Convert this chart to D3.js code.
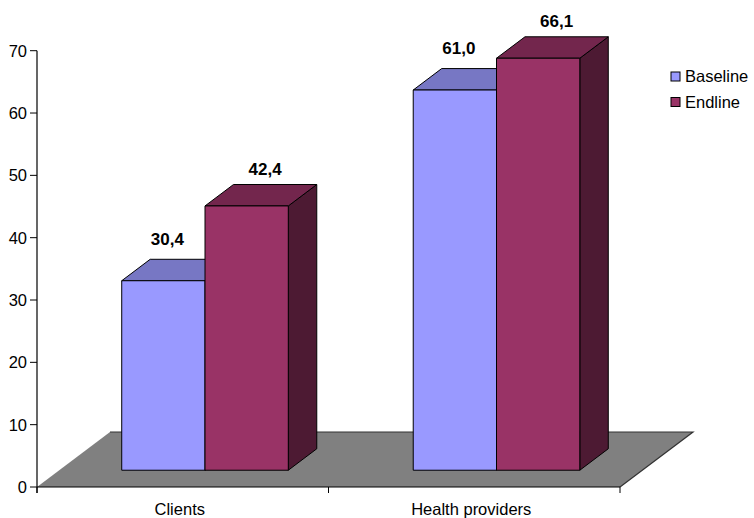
<!DOCTYPE html>
<html>
<head>
<meta charset="utf-8">
<script src="https://cdn.jsdelivr.net/npm/d3@7"></script>
<style>
  html, body { margin: 0; padding: 0; background: #fff; }
  svg { display: block; font-family: Arial, "Liberation Sans", sans-serif; }
</style>
</head>
<body>
<svg id="chart" width="754" height="518"></svg>
<script>
// Chart data
const categories = ["Clients", "Health providers"];
const seriesNames = ["Baseline", "Endline"];
const baselineValues = [30.4, 61.0];
const endlineValues = [42.4, 66.1];
const yTicks = [0, 10, 20, 30, 40, 50, 60, 70];

const seriesValues = [baselineValues, endlineValues];

// Face colours per series: front, top, side
const palette = [
  { front: "#9999FF", top: "#7777C4", side: "#4D4D80" },
  { front: "#993366", top: "#73264D", side: "#4D1A33" }
];

const svg = d3.select("#chart");
const textSize = 16.5;

// Plot frame (front plane)
const x0 = 37, x1 = 620;
const y = d3.scaleLinear().domain([0, 70]).range([487, 50.7]);

// Oblique depth of the floor
const depthX = 73, depthY = -55;
const proj = (px, py, d) => [px + d * depthX, py + d * depthY];

const xCat = d3.scaleBand().domain(categories).range([x0, x1]).paddingInner(0).paddingOuter(0);

// Excel-like gap width of 150%
const barW = xCat.bandwidth() / (seriesNames.length + 1.5);
const xSeries = d3.scaleBand().domain(seriesNames)
  .range([-barW * seriesNames.length / 2, barW * seriesNames.length / 2]);

const barDepth = 0.39;
const dFront = (1 - barDepth) / 2;
const dBack = dFront + barDepth;

const fmt = v => d3.format(".1f")(v).replace(".", ",");

// Floor
const floorPts = [proj(x0, y(0), 0), proj(x1, y(0), 0), proj(x1, y(0), 1), proj(x0, y(0), 1)];
svg.append("polygon")
  .attr("points", floorPts.map(p => p.join(",")).join(" "))
  .attr("fill", "#808080");
// dark back and right edges of the floor
svg.append("polyline")
  .attr("points", [proj(x1, y(0), 0), proj(x1, y(0), 1), proj(x0, y(0), 1)].map(p => p.join(",")).join(" "))
  .attr("fill", "none").attr("stroke", "#333").attr("stroke-width", 1.2);

// Y axis
const axisG = svg.append("g");
axisG.append("line")
  .attr("x1", x0).attr("x2", x0).attr("y1", y(70)).attr("y2", y(0) + 6)
  .attr("stroke", "#000").attr("stroke-width", 1.2);
yTicks.forEach(t => {
  axisG.append("line")
    .attr("x1", x0 - 7).attr("x2", x0).attr("y1", y(t)).attr("y2", y(t))
    .attr("stroke", "#000").attr("stroke-width", 1);
  axisG.append("text")
    .attr("x", x0 - 10).attr("y", y(t)).attr("dy", "0.36em")
    .attr("text-anchor", "end").attr("font-size", textSize).attr("fill", "#000")
    .text(t);
});

// X axis (front edge of the floor)
axisG.append("line")
  .attr("x1", x0).attr("x2", x1).attr("y1", y(0)).attr("y2", y(0))
  .attr("stroke", "#000").attr("stroke-width", 1.2);
[x0, ...categories.map(c => xCat(c) + xCat.bandwidth())].forEach(px => {
  axisG.append("line")
    .attr("x1", px).attr("x2", px).attr("y1", y(0)).attr("y2", y(0) + 6)
    .attr("stroke", "#000").attr("stroke-width", 1);
});
categories.forEach(c => {
  axisG.append("text")
    .attr("x", xCat(c) + xCat.bandwidth() / 2 - 3).attr("y", 515)
    .attr("text-anchor", "middle").attr("font-size", textSize).attr("fill", "#000")
    .text(c);
});

// Bars
const poly = (g, pts, fill) => g.append("polygon")
  .attr("points", pts.map(p => p.join(",")).join(" "))
  .attr("fill", fill).attr("stroke", "#000").attr("stroke-width", 1)
  .attr("stroke-linejoin", "round");

const barsG = svg.append("g");
const labelShift = [{ dx: 4, dy: -36 }, { dx: 18.5, dy: -31 }];
const labels = [];

categories.forEach((cat, ci) => {
  const cx = xCat(cat) + xCat.bandwidth() / 2;
  seriesNames.forEach((s, si) => {
    const v = seriesValues[si][ci];
    const left = cx + xSeries(s);
    const right = left + xSeries.bandwidth();
    const top = y(v), bottom = y(0);
    const col = palette[si];
    const fl = proj(left, bottom, dFront), fr = proj(right, bottom, dFront);
    const tl = proj(left, top, dFront), tr = proj(right, top, dFront);
    const btl = proj(left, top, dBack), btr = proj(right, top, dBack);
    const bbr = proj(right, bottom, dBack);
    const g = barsG.append("g");
    poly(g, [fr, bbr, btr, tr], col.side);
    poly(g, [tl, tr, btr, btl], col.top);
    poly(g, [fl, fr, tr, tl], col.front);
    labels.push({
      x: (fl[0] + fr[0]) / 2 + labelShift[si].dx,
      y: tl[1] + labelShift[si].dy,
      text: fmt(v)
    });
  });
});

svg.append("g").selectAll("text").data(labels).join("text")
  .attr("x", d => d.x).attr("y", d => d.y)
  .attr("text-anchor", "middle").attr("font-size", 17).attr("font-weight", "bold")
  .attr("fill", "#000")
  .text(d => d.text);

// Legend
const legend = svg.append("g").attr("transform", "translate(671,72)");
seriesNames.forEach((s, i) => {
  const row = legend.append("g").attr("transform", `translate(0,${i * 25.5})`);
  row.append("rect").attr("x", 0).attr("y", 0).attr("width", 9).attr("height", 9)
    .attr("fill", palette[i].front).attr("stroke", "#000").attr("stroke-width", 1);
  row.append("text").attr("x", 14).attr("y", 4.5).attr("dy", "0.36em")
    .attr("font-size", textSize).attr("fill", "#000").text(s);
});
</script>
</body>
</html>
